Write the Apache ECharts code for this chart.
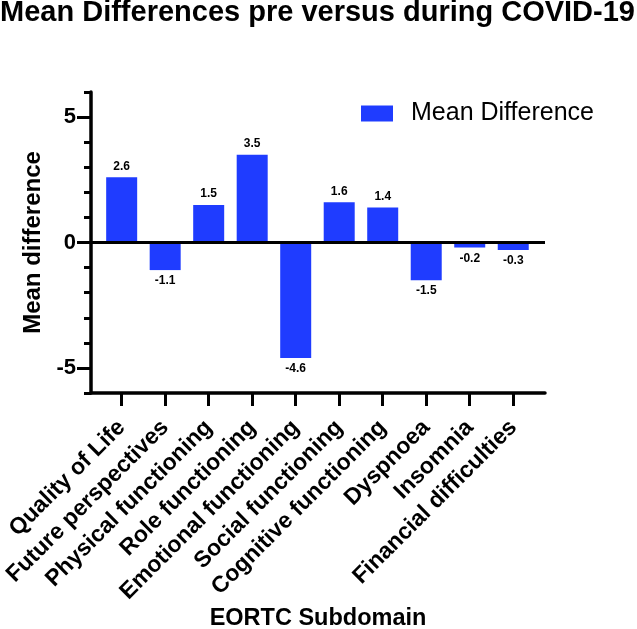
<!DOCTYPE html>
<html>
<head>
<meta charset="utf-8">
<script src="https://cdn.jsdelivr.net/npm/echarts@6/dist/echarts.min.js"></script>
<style>
html,body{margin:0;padding:0;background:#fff;}
#chart{width:637px;height:629px;}
</style>
</head>
<body>
<div id="chart"></div>
<script>
const titleText = 'Mean Differences pre versus during COVID-19';
const categories = ['Quality of Life','Future perspectives','Physical functioning','Role functioning','Emotional functioning','Social functioning','Cognitive functioning','Dyspnoea','Insomnia','Financial difficulties'];
const meanDiff = [2.6, -1.1, 1.5, 3.5, -4.6, 1.6, 1.4, -1.5, -0.2, -0.3];
const majorYTicks = [-5, 0, 5];
const seriesName = 'Mean Difference';
const xAxisName = 'EORTC Subdomain';
const yAxisName = 'Mean difference';

const FONT = '"Liberation Sans", Arial, Helvetica, sans-serif';
const BLUE = '#1f3cff';
const catIdx = categories.map((c, i) => i);

const chart = echarts.init(document.getElementById('chart'), null, {renderer: 'canvas'});
chart.setOption({
  animation: false,
  backgroundColor: '#fff',
  title: {
    text: titleText, left: 0, top: -2, padding: 0,
    textStyle: {fontFamily: FONT, fontWeight: 'bold', fontSize: 29, color: '#000'}
  },
  legend: {
    left: 361, top: 101, padding: 0,
    itemWidth: 32, itemHeight: 16,
    icon: 'rect',
    data: [seriesName],
    textStyle: {fontFamily: FONT, fontSize: 25, color: '#000', padding: [0, 0, 0, 13]}
  },
  grid: {left: 91, right: 92, top: 92, bottom: 236, containLabel: false, outerBoundsMode: 'none'},
  xAxis: {
    type: 'value', min: -0.705, max: 9.73,
    name: xAxisName, nameLocation: 'middle', nameGap: 209,
    nameTextStyle: {fontFamily: FONT, fontWeight: 'bold', fontSize: 23.5, color: '#000'},
    splitLine: {show: false},
    axisLine: {onZero: false, lineStyle: {color: '#000', width: 3.5}},
    axisTick: {customValues: catIdx, length: 13, lineStyle: {color: '#000', width: 3}},
    axisLabel: {
      customValues: catIdx, rotate: 45, margin: 31,
      formatter: v => categories[Math.round(v)] || '',
      fontFamily: FONT, fontWeight: 'bold', fontSize: 23, color: '#000'
    }
  },
  yAxis: [{
    type: 'value', min: -6, max: 6, position: 'left',
    name: yAxisName, nameLocation: 'middle', nameGap: 40,
    nameTextStyle: {fontFamily: FONT, fontWeight: 'bold', fontSize: 24, color: '#000'},
    splitLine: {show: false},
    axisLine: {show: true, onZero: false, lineStyle: {color: '#000', width: 3.5}},
    axisTick: {customValues: majorYTicks, length: 14, lineStyle: {color: '#000', width: 3}},
    axisLabel: {customValues: majorYTicks, margin: 15, fontFamily: FONT, fontWeight: 'bold', fontSize: 22, color: '#000'}
  }, {
    type: 'value', min: -6, max: 6, interval: 1, position: 'left', offset: 0,
    splitLine: {show: false},
    axisLine: {show: false, onZero: false},
    axisTick: {show: true, length: 7, lineStyle: {color: '#000', width: 3}},
    axisLabel: {show: false}
  }],
  series: [{
    name: seriesName, type: 'bar', barWidth: 31,
    itemStyle: {color: BLUE},
    data: meanDiff.map((v, i) => ({
      value: [i, v],
      label: {position: v < 0 ? 'bottom' : 'top'}
    })),
    label: {
      show: true, distance: 5,
      formatter: p => p.value[1].toFixed(1),
      fontFamily: FONT, fontWeight: 'bold', fontSize: 12, color: '#000'
    },
    markLine: {
      silent: true, symbol: 'none', label: {show: false},
      lineStyle: {color: '#000', width: 3, type: 'solid'},
      data: [{yAxis: 0}]
    }
  }]
});
</script>
</body>
</html>
